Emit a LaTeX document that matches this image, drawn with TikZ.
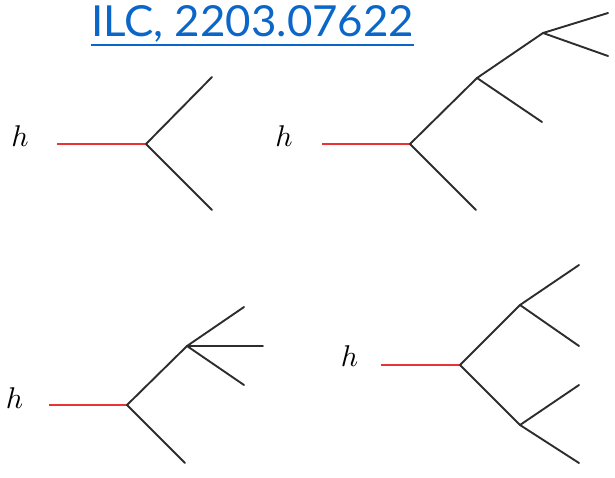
\documentclass[tikz,border=0pt]{standalone}
\usepackage{fontspec}
\newfontfamily\titlefont{Lato}
\definecolor{linkblue}{RGB}{10,102,200}
\definecolor{higgsred}{RGB}{232,52,52}
\definecolor{legcol}{RGB}{45,45,45}
\begin{document}
\begin{tikzpicture}[x=1pt,y=-1pt,
  higgs/.style={draw=higgsred,line width=2pt},
  leg/.style={draw=legcol,line width=1.9pt,line cap=round,line join=round},
  hlabel/.style={inner sep=0pt}]
\useasboundingbox (0,0) rectangle (615,477);
% title
\node[anchor=base west,inner sep=0pt,text=linkblue] (title) at (91,36)
  {\resizebox{323pt}{31pt}{\titlefont\fontsize{43}{43}\selectfont ILC, 2203.07622}};
\coordinate (ulA) at (91,45);
\coordinate (ulB) at (414,45);
\draw[linkblue,line width=2pt] (ulA) -- (ulB);

% diagram 1
\node[hlabel] (h1) at (20,136) {\scalebox{3}{$h$}};
\coordinate (a0) at (57,144);
\coordinate (a1) at (146,144);
\coordinate (a2) at (212,77);
\coordinate (a3) at (212,210);
\draw[higgs] (a0) -- (a1);
\draw[leg] (a2) -- (a1) -- (a3);

% diagram 2
\node[hlabel] (h2) at (284,136) {\scalebox{3}{$h$}};
\coordinate (b0) at (322,144);
\coordinate (b1) at (410,144);
\coordinate (b2) at (476,210);
\coordinate (b3) at (477,78);
\coordinate (b4) at (542,122);
\coordinate (b5) at (543,33);
\coordinate (b6) at (608,13);
\coordinate (b7) at (608,56);
\draw[higgs] (b0) -- (b1);
\draw[leg] (b2) -- (b1) -- (b3) -- (b5);
\draw[leg] (b3) -- (b4);
\draw[leg] (b6) -- (b5) -- (b7);

% diagram 3
\node[hlabel] (h3) at (14.5,398.5) {\scalebox{3}{$h$}};
\coordinate (c0) at (49,405);
\coordinate (c1) at (127,405);
\coordinate (c2) at (185,463);
\coordinate (c3) at (187,346);
\coordinate (c4) at (244,307);
\coordinate (c5) at (263,346);
\coordinate (c6) at (244,385);
\draw[higgs] (c0) -- (c1);
\draw[leg] (c2) -- (c1) -- (c3);
\draw[leg] (c3) -- (c4);
\draw[leg] (c3) -- (c5);
\draw[leg] (c3) -- (c6);

% diagram 4
\node[hlabel] (h4) at (349.5,356.5) {\scalebox{3}{$h$}};
\coordinate (d0) at (381,365);
\coordinate (d1) at (460,365);
\coordinate (d2) at (520,305);
\coordinate (d3) at (520,425);
\coordinate (d4) at (579,265);
\coordinate (d5) at (579,346);
\coordinate (d6) at (579,385);
\coordinate (d7) at (579,463);
\draw[higgs] (d0) -- (d1);
\draw[leg] (d2) -- (d1) -- (d3);
\draw[leg] (d4) -- (d2) -- (d5);
\draw[leg] (d6) -- (d3) -- (d7);
\end{tikzpicture}
\end{document}
